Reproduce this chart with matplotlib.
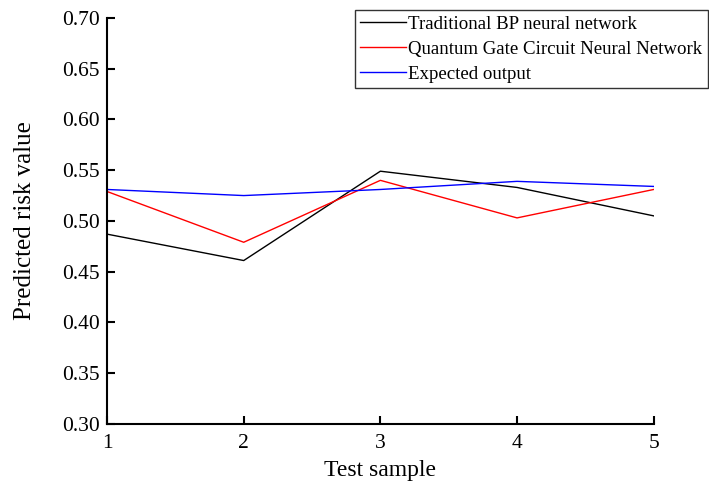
import matplotlib
matplotlib.use("Agg")
from matplotlib import pyplot as plt

samples = [1, 2, 3, 4, 5]
bp_values = [0.487, 0.461, 0.549, 0.533, 0.505]
quantum_values = [0.529, 0.479, 0.540, 0.503, 0.531]
expected_values = [0.531, 0.525, 0.531, 0.539, 0.534]

plt.rcParams['font.family'] = ['Liberation Serif', 'DejaVu Serif']

fig = plt.figure(figsize=(7.09, 4.84), dpi=100)
ax = fig.add_axes([0.151, 0.124, 0.771, 0.839])

ax.plot(samples, bp_values, color='black', lw=1, label='Traditional BP neural network')
ax.plot(samples, quantum_values, color='red', lw=1, label='Quantum Gate Circuit Neural Network')
ax.plot(samples, expected_values, color='blue', lw=1, label='Expected output')

ax.set_xlim(1, 5)
ax.set_ylim(0.30, 0.70)
ax.set_xticks(samples)
ax.set_yticks([0.30, 0.35, 0.40, 0.45, 0.50, 0.55, 0.60, 0.65, 0.70])
ax.yaxis.set_major_formatter(matplotlib.ticker.FormatStrFormatter('%.2f'))
ax.tick_params(direction='in', labelsize=15.5, width=1.5, length=6)
ax.tick_params(axis='x', pad=7)
ax.tick_params(axis='y', pad=5)
for s in ['top', 'right']:
    ax.spines[s].set_visible(False)
for s in ['left', 'bottom']:
    ax.spines[s].set_linewidth(1.5)

ax.set_xlabel('Test sample', fontsize=17, labelpad=5)
ax.set_ylabel('Predicted risk value', fontsize=18, labelpad=19)

leg = ax.legend(loc='upper left', bbox_to_anchor=(0.5, 0.979), bbox_transform=fig.transFigure,
                fontsize=13.6, frameon=True, fancybox=False, edgecolor='black',
                handlelength=2.4, handletextpad=0.15, borderpad=0.3, labelspacing=0.4,
                borderaxespad=0)
leg.get_frame().set_linewidth(1.0)

fig.savefig('out.png', dpi=100)
